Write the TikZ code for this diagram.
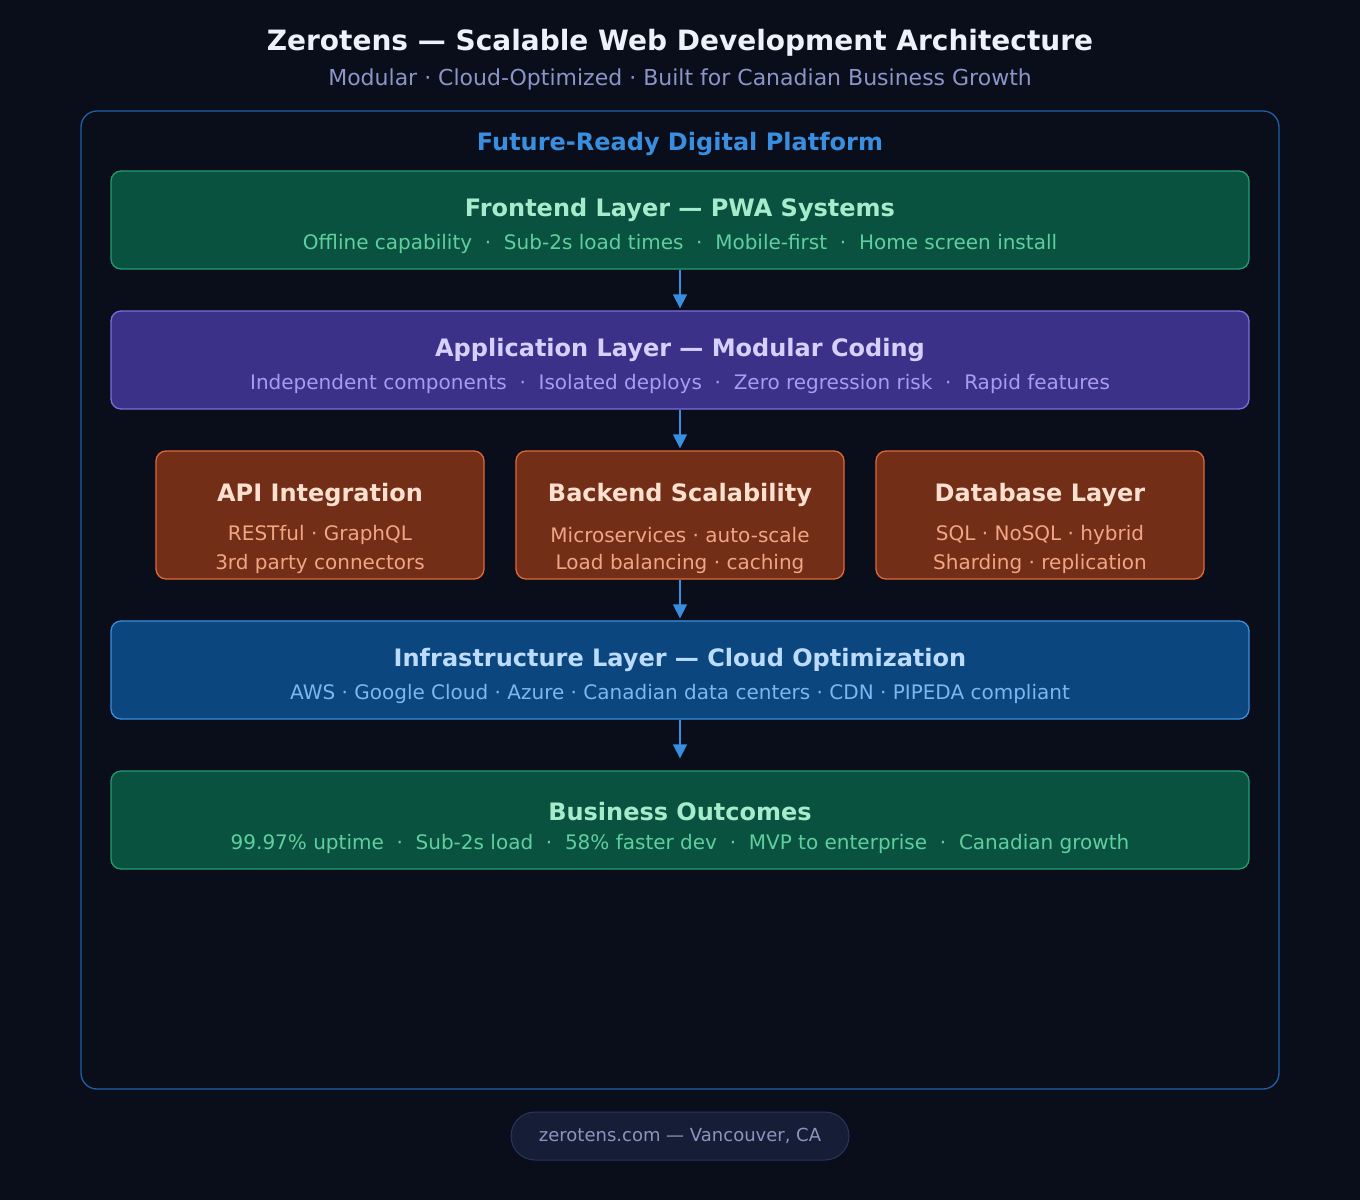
\documentclass[tikz,border=0pt]{standalone}
\usepackage{fontspec}
\setmainfont{DejaVu Sans}
\usetikzlibrary{arrows.meta}
\definecolor{bg}{HTML}{0A0E1A}
\definecolor{frame}{HTML}{1E5FA8}
\definecolor{titleC}{HTML}{EEF1FA}\definecolor{subtC}{HTML}{8A95C8}
\definecolor{gF}{HTML}{0A5240}\definecolor{gS}{HTML}{1F9E73}\definecolor{gT}{HTML}{A6ECCC}\definecolor{gX}{HTML}{5FCF9F}
\definecolor{pF}{HTML}{3C3188}\definecolor{pS}{HTML}{7C6EE0}\definecolor{pT}{HTML}{D6D0FF}\definecolor{pX}{HTML}{A99CF0}
\definecolor{oF}{HTML}{722E16}\definecolor{oS}{HTML}{E0683A}\definecolor{oT}{HTML}{FDE0D0}\definecolor{oX}{HTML}{F2A585}
\definecolor{bF}{HTML}{0C467F}\definecolor{bS}{HTML}{3A8EE0}\definecolor{bT}{HTML}{BCDCFF}\definecolor{bX}{HTML}{7AB8F0}
\definecolor{arr}{HTML}{3A8EE0}
\definecolor{footF}{HTML}{161D36}\definecolor{footS}{HTML}{2A3560}\definecolor{footT}{HTML}{8A95BF}
\begin{document}
\begin{tikzpicture}[x=1pt,y=-1pt,
 layer/.style={draw,line width=1.3pt,rounded corners=10pt,minimum height=98pt,inner sep=0pt},
 ttl/.style={font=\bfseries\fontsize{24}{28}\selectfont},
 sub/.style={font=\fontsize{20}{24}\selectfont},
 conn/.style={draw=arr,line width=1.5pt,-{Triangle[length=14pt,width=14pt]}}]
\fill[bg] (0,0) rectangle (1360,1200);
\useasboundingbox (0,0) rectangle (1360,1200);
\node[text=titleC,font=\bfseries\fontsize{28}{32}\selectfont] (title) at (680,43) {Zerotens — Scalable Web Development Architecture};
\node[text=subtC,font=\fontsize{22}{26}\selectfont] (subt) at (680,79) {Modular · Cloud-Optimized · Built for Canadian Business Growth};
\draw[frame,line width=1.3pt,rounded corners=16pt] (81,111) rectangle (1279,1089);
\node[text=arr,font=\bfseries\fontsize{24}{28}\selectfont] (plat) at (680,144) {Future-Ready Digital Platform};
% frontend
\node[layer,fill=gF,draw=gS,minimum width=1138pt] (fe) at (680,220) {};
\node[ttl,text=gT] at (680,210) {Frontend Layer — PWA Systems};
\node[sub,text=gX] at (680,244) {Offline capability\ \ ·\ \ Sub-2s load times\ \ ·\ \ Mobile-first\ \ ·\ \ Home screen install};
% application
\node[layer,fill=pF,draw=pS,minimum width=1138pt] (app) at (680,360) {};
\node[ttl,text=pT] at (680,350) {Application Layer — Modular Coding};
\node[sub,text=pX] at (680,384) {Independent components\ \ ·\ \ Isolated deploys\ \ ·\ \ Zero regression risk\ \ ·\ \ Rapid features};
% three boxes
\foreach \n/\x/\t/\a/\b in {api/320/API Integration/RESTful · GraphQL/3rd party connectors,
  be/680/Backend Scalability/Microservices · auto-scale/Load balancing · caching,
  db/1040/Database Layer/SQL · NoSQL · hybrid/Sharding · replication}{
 \node[layer,fill=oF,draw=oS,minimum width=328pt,minimum height=128pt] (\n) at (\x,515) {};
 \node[ttl,text=oT] at (\x,495) {\t};
 \node[sub,text=oX] at (\x,535) {\a};
 \node[sub,text=oX] at (\x,564) {\b};
}
% infra
\node[layer,fill=bF,draw=bS,minimum width=1138pt] (inf) at (680,670) {};
\node[ttl,text=bT] at (680,660) {Infrastructure Layer — Cloud Optimization};
\node[sub,text=bX] at (680,694) {AWS · Google Cloud · Azure · Canadian data centers · CDN · PIPEDA compliant};
% business
\node[layer,fill=gF,draw=gS,minimum width=1138pt] (bus) at (680,820) {};
\node[ttl,text=gT] at (680,812) {Business Outcomes};
\node[sub,text=gX] at (680,844) {99.97\% uptime\ \ ·\ \ Sub-2s load\ \ ·\ \ 58\% faster dev\ \ ·\ \ MVP to enterprise\ \ ·\ \ Canadian growth};
% arrows
\draw[conn,shorten >=2pt] (fe.south) -- (app.north);
\draw[conn,shorten >=2pt] (app.south) -- (be.north);
\draw[conn,shorten >=2pt] (be.south) -- (inf.north);
\draw[conn,shorten >=12pt] (inf.south) -- (bus.north);
% footer
\node[draw=footS,fill=footF,line width=1pt,rounded corners=24pt,minimum width=338pt,minimum height=48pt,text=footT,font=\fontsize{18}{22}\selectfont] (foot) at (680,1136) {zerotens.com — Vancouver, CA};
\end{tikzpicture}
\end{document}
